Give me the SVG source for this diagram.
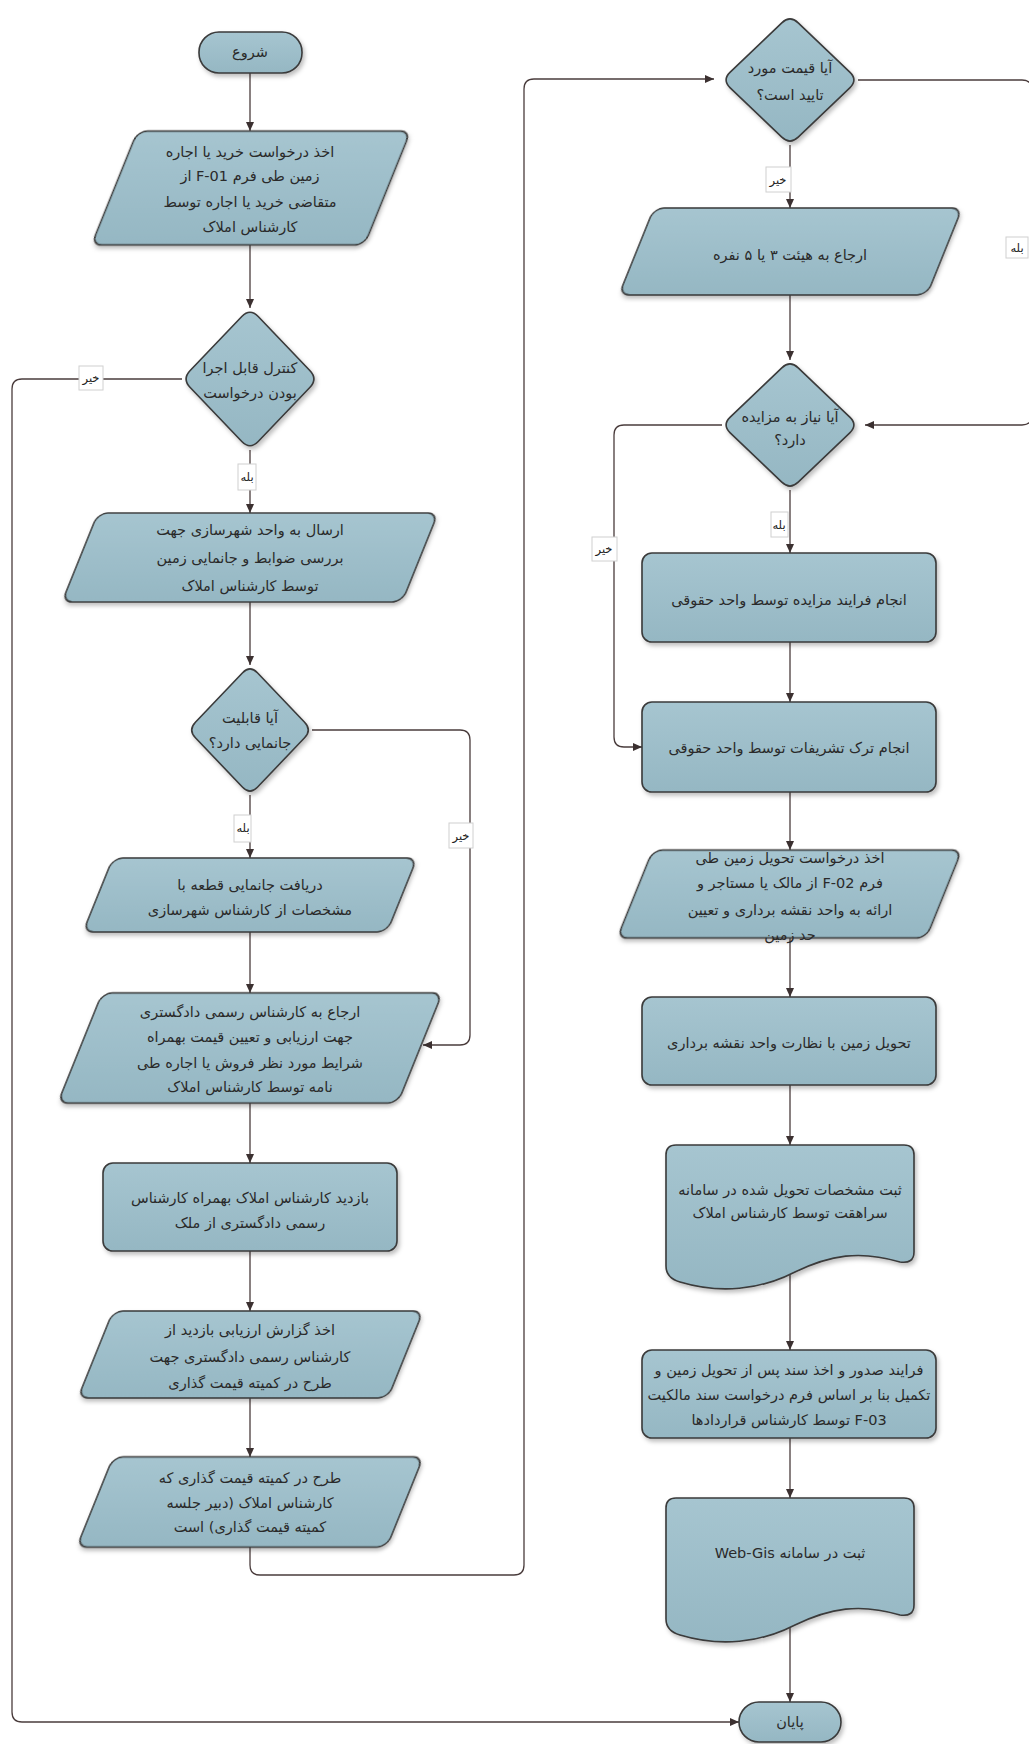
<svg xmlns="http://www.w3.org/2000/svg" width="1029" height="1744" viewBox="0 0 1029 1744">
<defs>
<linearGradient id="fillg" x1="0" y1="0" x2="0" y2="1">
<stop offset="0" stop-color="#a6c5d0"/>
<stop offset="1" stop-color="#95b7c3"/>
</linearGradient>
<filter id="sh" x="-10%" y="-10%" width="125%" height="130%">
<feDropShadow dx="2" dy="3" stdDeviation="2" flood-color="#000" flood-opacity="0.25"/>
</filter>
<marker id="ah" markerWidth="10" markerHeight="10" refX="9" refY="5" orient="auto" markerUnits="userSpaceOnUse">
<path d="M0,1 L9,5 L0,9 Z" fill="#3b3030"/>
</marker>
</defs>
<style>
.s{fill:url(#fillg);stroke:#3a3a3a;stroke-width:1.6;filter:url(#sh)}
.t{font-family:"DejaVu Sans",sans-serif;font-size:14.5px;fill:#2a2a2a;text-anchor:middle;direction:rtl}
.c{fill:none;stroke:#4a3c3c;stroke-width:1.3}
.a{marker-end:url(#ah)}
.lb{fill:#fff;stroke:#d0d0d0;stroke-width:1}
.lt{font-family:"DejaVu Sans",sans-serif;font-size:11.5px;fill:#222;text-anchor:middle;direction:rtl}
</style>
<rect width="1029" height="1744" fill="#fff"/>

<g id="connectors">
<path class="c a" d="M250,73 V131"/>
<path class="c a" d="M250,245 V308"/>
<path class="c a" d="M250,450 V513"/>
<path class="c a" d="M182,379 H22 Q12,379 12,389 V1712 Q12,1722 22,1722 H739"/>
<path class="c a" d="M250,602 V665"/>
<path class="c a" d="M250,795 V858"/>
<path class="c a" d="M312,730 H460 Q470,730 470,740 V1035 Q470,1045 460,1045 H423"/>
<path class="c a" d="M250,932 V993"/>
<path class="c a" d="M250,1103 V1163"/>
<path class="c a" d="M250,1251 V1311"/>
<path class="c a" d="M250,1398 V1457"/>
<path class="c a" d="M250,1547 V1565 Q250,1575 260,1575 H514 Q524,1575 524,1565 V89 Q524,79 534,79 H714"/>
<path class="c a" d="M790,145 V208"/>
<path class="c a" d="M858,80 H1022 Q1032,80 1032,90 V415 Q1032,425 1022,425 H865"/>
<path class="c a" d="M790,295 V360"/>
<path class="c a" d="M790,490 V553"/>
<path class="c a" d="M722,425 H624 Q614,425 614,435 V737 Q614,747 624,747 H642"/>
<path class="c a" d="M790,642 V702"/>
<path class="c a" d="M790,792 V850"/>
<path class="c a" d="M790,938 V997"/>
<path class="c a" d="M790,1085 V1145"/>
<path class="c a" d="M790,1275 V1350"/>
<path class="c a" d="M790,1438 V1498"/>
<path class="c a" d="M790,1628 V1702"/>

<rect class="lb" x="79" y="366" width="24" height="24"/>
<text class="lt" x="91" y="382">خیر</text>
<rect class="lb" x="238" y="464" width="18" height="26"/>
<text class="lt" x="247" y="481">بله</text>
<rect class="lb" x="234" y="815" width="17" height="27"/>
<text class="lt" x="243" y="832">بله</text>
<rect class="lb" x="449" y="823" width="24" height="25"/>
<text class="lt" x="461" y="840">خیر</text>
<rect class="lb" x="766" y="167" width="25" height="25"/>
<text class="lt" x="778" y="184">خیر</text>
<rect class="lb" x="1006" y="237" width="22" height="21"/>
<text class="lt" x="1017" y="252">بله</text>
<rect class="lb" x="771" y="512" width="17" height="25"/>
<text class="lt" x="779" y="529">بله</text>
<rect class="lb" x="592" y="537" width="25" height="24"/>
<text class="lt" x="604" y="553">خیر</text>
</g>

<g id="start">
<rect class="s" x="199" y="32" width="103" height="41" rx="20"/>
<text class="t" x="250" y="57">شروع</text>
</g>

<g id="p1">
<rect class="s" x="-136.5" y="-57" width="273" height="114" rx="10" transform="translate(251,188) skewX(-22)"/>
<text class="t" x="250" y="157">اخذ درخواست خرید یا اجاره</text>
<text class="t" x="250" y="181">زمین طی فرم F-01 از</text>
<text class="t" x="250" y="207">متقاضی خرید یا اجاره توسط</text>
<text class="t" x="250" y="232">کارشناس املاک</text>
</g>

<g id="d1">
<path class="s" d="M258.2,316.5 L309.8,370.5 Q318,379 309.8,387.5 L258.2,441.5 Q250,450 241.8,441.5 L190.2,387.5 Q182,379 190.2,370.5 L241.8,316.5 Q250,308 258.2,316.5 Z"/>
<text class="t" x="250" y="373">کنترل قابل اجرا</text>
<text class="t" x="250" y="398">بودن درخواست</text>
</g>

<g id="p2">
<rect class="s" x="-170" y="-44.5" width="340" height="89" rx="10" transform="translate(250,557.5) skewX(-22)"/>
<text class="t" x="250" y="535">ارسال به واحد شهرسازی جهت</text>
<text class="t" x="250" y="563">بررسی ضوابط و جانمایی زمین</text>
<text class="t" x="250" y="591">توسط کارشناس املاک</text>
</g>

<g id="d2">
<path class="s" d="M257.4,672.8 L304.6,722.2 Q312,730 304.6,737.8 L257.4,787.2 Q250,795 242.6,787.2 L195.4,737.8 Q188,730 195.4,722.2 L242.6,672.8 Q250,665 257.4,672.8 Z"/>
<text class="t" x="250" y="723">آیا قابلیت</text>
<text class="t" x="250" y="748">جانمایی دارد؟</text>
</g>

<g id="p3">
<rect class="s" x="-152" y="-37" width="304" height="74" rx="10" transform="translate(250,895) skewX(-22)"/>
<text class="t" x="250" y="890">دریافت جانمایی قطعه با</text>
<text class="t" x="250" y="915">مشخصات از کارشناس شهرسازی</text>
</g>

<g id="p4">
<rect class="s" x="-170" y="-55" width="340" height="110" rx="10" transform="translate(250,1048) skewX(-22)"/>
<text class="t" x="250" y="1017">ارجاع به کارشناس رسمی دادگستری</text>
<text class="t" x="250" y="1042">جهت ارزیابی و تعیین قیمت بهمراه</text>
<text class="t" x="250" y="1068">شرایط مورد نظر فروش یا اجاره طی</text>
<text class="t" x="250" y="1092">نامه توسط کارشناس املاک</text>
</g>

<g id="r5">
<rect class="s" x="103" y="1163" width="294" height="88" rx="10"/>
<text class="t" x="250" y="1203">بازدید کارشناس املاک بهمراه کارشناس</text>
<text class="t" x="250" y="1228">رسمی دادگستری از  ملک</text>
</g>

<g id="p6">
<rect class="s" x="-155" y="-43.5" width="310" height="87" rx="10" transform="translate(250.5,1354.5) skewX(-22)"/>
<text class="t" x="250" y="1335">اخذ گزارش ارزیابی بازدید از</text>
<text class="t" x="250" y="1362">کارشناس رسمی دادگستری جهت</text>
<text class="t" x="250" y="1388">طرح در کمیته قیمت گذاری</text>
</g>

<g id="p7">
<rect class="s" x="-155" y="-45" width="310" height="90" rx="10" transform="translate(250,1502) skewX(-22)"/>
<text class="t" x="250" y="1483">طرح در کمیته قیمت گذاری که</text>
<text class="t" x="250" y="1508">کارشناس املاک (دبیر جلسه</text>
<text class="t" x="250" y="1532">کمیته قیمت گذاری) است</text>
</g>

<g id="d8">
<path class="s" d="M798.2,22.8 L849.8,72.2 Q858,80 849.8,87.8 L798.2,137.2 Q790,145 781.8,137.2 L730.2,87.8 Q722,80 730.2,72.2 L781.8,22.8 Q790,15 798.2,22.8 Z"/>
<text class="t" x="790" y="73">آیا قیمت مورد</text>
<text class="t" x="790" y="100">تایید است؟</text>
</g>

<g id="p8">
<rect class="s" x="-154" y="-43.5" width="308" height="87" rx="10" transform="translate(790.5,251.5) skewX(-22)"/>
<text class="t" x="790" y="260">ارجاع به هیئت ۳ یا ۵ نفره</text>
</g>

<g id="d9">
<path class="s" d="M798.2,367.8 L849.8,417.2 Q858,425 849.8,432.8 L798.2,482.2 Q790,490 781.8,482.2 L730.2,432.8 Q722,425 730.2,417.2 L781.8,367.8 Q790,360 798.2,367.8 Z"/>
<text class="t" x="790" y="422">آیا نیاز به مزایده</text>
<text class="t" x="790" y="445">دارد؟</text>
</g>

<g id="r10">
<rect class="s" x="642" y="553" width="294" height="89" rx="10"/>
<text class="t" x="789" y="605">انجام فرایند مزایده توسط واحد حقوقی</text>
</g>

<g id="r11">
<rect class="s" x="642" y="702" width="294" height="90" rx="10"/>
<text class="t" x="789" y="753">انجام ترک تشریفات توسط واحد حقوقی</text>
</g>

<g id="p12">
<rect class="s" x="-154.5" y="-44" width="309" height="88" rx="10" transform="translate(789.5,894) skewX(-22)"/>
<text class="t" x="790" y="863">اخذ درخواست تحویل زمین طی</text>
<text class="t" x="790" y="888">فرم F-02 از مالک یا مستاجر و</text>
<text class="t" x="790" y="915">ارائه به واحد نقشه برداری و تعیین</text>
<text class="t" x="790" y="940">حد زمین</text>
</g>

<g id="r13">
<rect class="s" x="642" y="997" width="294" height="88" rx="10"/>
<text class="t" x="789" y="1048">تحویل زمین با نظارت واحد نقشه برداری</text>
</g>

<g id="doc14">
<path class="s" d="M676,1145 H904 Q914,1145 914,1155 V1252 Q914,1264 900,1262 C860,1250 830,1255 795,1272 C760,1290 720,1294 680,1282 Q666,1278 666,1266 V1155 Q666,1145 676,1145 Z"/>
<text class="t" x="790" y="1195">ثبت مشخصات تحویل شده در سامانه</text>
<text class="t" x="790" y="1218">سراهقت توسط کارشناس املاک</text>
</g>

<g id="r15">
<rect class="s" x="642" y="1350" width="294" height="88" rx="10"/>
<text class="t" x="789" y="1375">فرایند صدور و اخذ سند پس از تحویل زمین و</text>
<text class="t" x="789" y="1400">تکمیل بنا بر اساس فرم درخواست سند مالکیت</text>
<text class="t" x="789" y="1425">F-03 توسط کارشناس قراردادها</text>
</g>

<g id="doc16">
<path class="s" d="M676,1498 H904 Q914,1498 914,1508 V1605 Q914,1617 900,1615 C860,1603 830,1608 795,1625 C760,1643 720,1647 680,1635 Q666,1631 666,1619 V1508 Q666,1498 676,1498 Z"/>
<text class="t" x="790" y="1558">ثبت در سامانه Web-Gis</text>
</g>

<g id="end">
<rect class="s" x="739" y="1702" width="102" height="40" rx="20"/>
<text class="t" x="790" y="1727">پایان</text>
</g>
</svg>
